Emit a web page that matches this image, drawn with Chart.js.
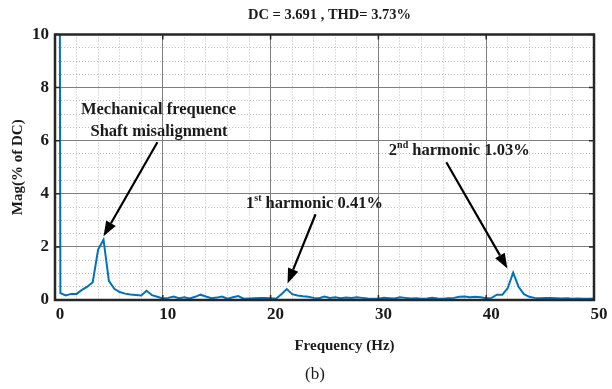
<!DOCTYPE html>
<html>
<head>
<meta charset="utf-8">
<script src="https://cdn.jsdelivr.net/npm/chart.js"></script>
<style>
  html, body { margin: 0; padding: 0; background: #fff; }
</style>
</head>
<body>
<canvas id="myChart" width="612" height="389"></canvas>
<script>
// spectrum, 0.5 Hz bins
const freqHz = [
  0, 0.5, 1, 1.5, 2, 2.5, 3, 3.5, 4, 4.5, 5, 5.5, 6, 6.5, 7, 7.5, 8, 8.5, 9, 9.5,
  10, 10.5, 11, 11.5, 12, 12.5, 13, 13.5, 14, 14.5, 15, 15.5, 16, 16.5, 17, 17.5, 18, 18.5, 19, 19.5,
  20, 20.5, 21, 21.5, 22, 22.5, 23, 23.5, 24, 24.5, 25, 25.5, 26, 26.5, 27, 27.5, 28, 28.5, 29, 29.5,
  30, 30.5, 31, 31.5, 32, 32.5, 33, 33.5, 34, 34.5, 35, 35.5, 36, 36.5, 37, 37.5, 38, 38.5, 39, 39.5,
  40, 40.5, 41, 41.5, 42, 42.5, 43, 43.5, 44, 44.5, 45, 45.5, 46, 46.5, 47, 47.5, 48, 48.5, 49, 49.5, 50
]
const magPct = [
  100, 0.26, 0.17, 0.23, 0.23, 0.38, 0.5, 0.67, 1.9, 2.27, 0.72, 0.42, 0.3, 0.24, 0.21, 0.19, 0.17, 0.35, 0.18, 0.12,
  0.06, 0.08, 0.13, 0.07, 0.1, 0.06, 0.12, 0.2, 0.13, 0.07, 0.09, 0.13, 0.05, 0.1, 0.15, 0.05, 0.06, 0.07, 0.08, 0.08,
  0.07, 0.05, 0.22, 0.41, 0.22, 0.17, 0.14, 0.12, 0.08, 0.07, 0.13, 0.08, 0.1, 0.07, 0.09, 0.08, 0.1, 0.08, 0.06, 0.05,
  0.05, 0.08, 0.07, 0.06, 0.1, 0.08, 0.06, 0.07, 0.05, 0.06, 0.08, 0.06, 0.05, 0.07, 0.08, 0.12, 0.13, 0.1, 0.12, 0.1,
  0.07, 0.08, 0.2, 0.2, 0.45, 1.03, 0.5, 0.22, 0.12, 0.08, 0.07, 0.08, 0.08, 0.07, 0.06, 0.07, 0.05, 0.06, 0.05, 0.05, 0.06
]
const xTicks = [0, 10, 20, 30, 40, 50]
const yTicks = [0, 2, 4, 6, 8, 10]

const titleText = "DC = 3.691 , THD= 3.73%"
const xTitle = "Frequency (Hz)"
const yTitle = "Mag(% of DC)"
const caption = "(b)"

// annotation text + arrows, in data units (x Hz, y %)
const notes = [
  { parts: [["Mechanical frequence", 0]], x: 9.6, y: 7.15 },
  { parts: [["Shaft misalignment", 0]], x: 9.65, y: 6.32 },
  { parts: [["1", 0], ["st", 1], [" harmonic 0.41%", 0]], x: 24.07, y: 3.64 },
  { parts: [["2", 0], ["nd", 1], [" harmonic 1.03%", 0]], x: 37.5, y: 5.64 },
]
const arrows = [
  { from: [9.5, 5.94], to: [4.5, 2.4] },
  { from: [24.17, 3.23], to: [21.57, 0.62] },
  { from: [36.3, 5.19], to: [41.97, 1.19] },
]

const SERIF = "'Liberation Serif', 'Times New Roman', serif"

function drawParts(ctx, parts, cx, cy, size) {
  const big = "bold " + size + "px " + SERIF
  const small = "bold " + Math.round(size * 0.62) + "px " + SERIF
  let total = 0
  parts.forEach(p => {
    ctx.font = p[1] ? small : big
    total += ctx.measureText(p[0]).width
  })
  let x = cx - total / 2
  ctx.textAlign = "left"
  ctx.textBaseline = "middle"
  parts.forEach(p => {
    ctx.font = p[1] ? small : big
    ctx.fillText(p[0], x, p[1] ? cy - size * 0.32 : cy)
    x += ctx.measureText(p[0]).width
  })
}

function drawArrow(ctx, x1, y1, x2, y2) {
  const ang = Math.atan2(y2 - y1, x2 - x1)
  const len = 15, half = 5.5
  const bx = x2 - len * Math.cos(ang), by = y2 - len * Math.sin(ang)
  ctx.strokeStyle = "#000"
  ctx.lineWidth = 2.2
  ctx.beginPath()
  ctx.moveTo(x1, y1)
  ctx.lineTo(bx, by)
  ctx.stroke()
  ctx.fillStyle = "#000"
  ctx.beginPath()
  ctx.moveTo(x2, y2)
  ctx.lineTo(bx + half * Math.sin(ang), by - half * Math.cos(ang))
  ctx.lineTo(bx - half * Math.sin(ang), by + half * Math.cos(ang))
  ctx.closePath()
  ctx.fill()
}

const figurePlugin = {
  id: "figure",
  beforeDraw(chart) {
    const ctx = chart.ctx
    ctx.save()
    ctx.fillStyle = "#fff"
    ctx.fillRect(0, 0, chart.width, chart.height)
    ctx.restore()
  },
  afterDraw(chart) {
    const ctx = chart.ctx
    const a = chart.chartArea
    const xs = chart.scales.x, ys = chart.scales.y
    ctx.save()

    // inward tick marks
    ctx.strokeStyle = "#262626"
    ctx.lineWidth = 1.5
    ctx.beginPath()
    xTicks.forEach(v => {
      const px = xs.getPixelForValue(v)
      ctx.moveTo(px, a.bottom); ctx.lineTo(px, a.bottom - 5)
      ctx.moveTo(px, a.top); ctx.lineTo(px, a.top + 5)
    })
    yTicks.forEach(v => {
      const py = ys.getPixelForValue(v)
      ctx.moveTo(a.left, py); ctx.lineTo(a.left + 5, py)
      ctx.moveTo(a.right, py); ctx.lineTo(a.right - 5, py)
    })
    ctx.stroke()

    // box
    ctx.lineWidth = 2.5
    ctx.strokeRect(a.left, a.top, a.right - a.left, a.bottom - a.top)

    ctx.fillStyle = "#1a1a1a"
    // title
    drawParts(ctx, [[titleText, 0]], (a.left + a.right) / 2 + 5, 15, 14.5)
    // x title
    drawParts(ctx, [[xTitle, 0]], (a.left + a.right) / 2 + 20, 346, 15)
    // caption
    ctx.font = "17px " + SERIF
    ctx.textAlign = "center"
    ctx.textBaseline = "middle"
    ctx.fillText(caption, 315, 375)
    // y title
    ctx.save()
    ctx.translate(18, (a.top + a.bottom) / 2)
    ctx.rotate(-Math.PI / 2)
    drawParts(ctx, [[yTitle, 0]], 0, 0, 15)
    ctx.restore()

    // annotations
    notes.forEach(n => {
      drawParts(ctx, n.parts, xs.getPixelForValue(n.x), ys.getPixelForValue(n.y), 16.5)
    })
    arrows.forEach(r => {
      drawArrow(ctx,
        xs.getPixelForValue(r.from[0]), ys.getPixelForValue(r.from[1]),
        xs.getPixelForValue(r.to[0]), ys.getPixelForValue(r.to[1]))
    })
    ctx.restore()
  }
}

const tickFont = { family: SERIF, size: 17, weight: "bold" }

new Chart(document.getElementById("myChart"), {
  type: "line",
  data: {
    datasets: [{
      data: freqHz.map((f, i) => ({ x: f, y: magPct[i] })),
      borderColor: "#0072BD",
      borderWidth: 2,
      pointRadius: 0,
      tension: 0,
      fill: false,
    }],
  },
  options: {
    responsive: false,
    animation: false,
    layout: { padding: { top: 34.5, right: 18, left: 0, bottom: 0 } },
    plugins: {
      legend: { display: false },
      tooltip: { enabled: false },
      title: { display: false },
    },
    scales: {
      x: {
        type: "linear",
        min: 0,
        max: 50,
        position: "bottom",
        afterFit: s => { s.height = 89 },
        afterBuildTicks: s => { s.ticks = xTicks.map(v => ({ value: v })) },
        ticks: { font: tickFont, color: "#1a1a1a", padding: 4, labelOffset: 5, maxRotation: 0 },
        grid: { color: "#7f7f7f", lineWidth: 1, drawTicks: false, z: -1 },
        border: { display: false },
      },
      xMinor: {
        type: "linear",
        min: 0,
        max: 50,
        position: "bottom",
        afterFit: s => { s.height = 0 },
        ticks: { display: false, stepSize: 2 },
        grid: { color: "#bdbdbd", lineWidth: 1, drawTicks: false, z: -2 },
        border: { display: false, dash: [1, 2] },
      },
      y: {
        type: "linear",
        min: 0,
        max: 10,
        position: "left",
        afterFit: s => { s.width = 55 },
        afterBuildTicks: s => { s.ticks = yTicks.map(v => ({ value: v })) },
        ticks: { font: tickFont, color: "#1a1a1a", padding: 6 },
        grid: { color: "#7f7f7f", lineWidth: 1, drawTicks: false, z: -1 },
        border: { display: false },
      },
      yMinor: {
        type: "linear",
        min: 0,
        max: 10,
        position: "left",
        afterFit: s => { s.width = 0 },
        ticks: { display: false, stepSize: 0.5 },
        grid: { color: "#bdbdbd", lineWidth: 1, drawTicks: false, z: -2 },
        border: { display: false, dash: [1, 2] },
      },
    },
  },
  plugins: [figurePlugin],
})
</script>
</body>
</html>
